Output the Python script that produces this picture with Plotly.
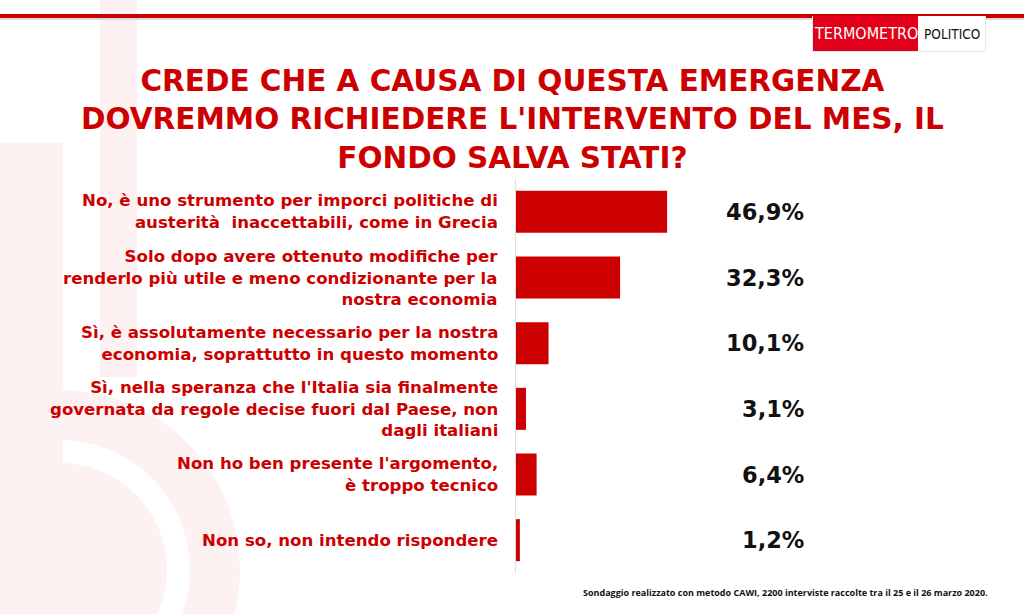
import plotly.graph_objects as go

# ---- data ----
categories = [
    "No, è uno strumento per imporci politiche di<br>austerità  inaccettabili, come in Grecia",
    "Solo dopo avere ottenuto modifiche per<br>renderlo più utile e meno condizionante per la<br>nostra economia",
    "Sì, è assolutamente necessario per la nostra<br>economia, soprattutto in questo momento",
    "Sì, nella speranza che l'Italia sia finalmente<br>governata da regole decise fuori dal Paese, non<br>dagli italiani",
    "Non ho ben presente l'argomento,<br>è troppo tecnico",
    "Non so, non intendo rispondere",
]
values = [46.9, 32.3, 10.1, 3.1, 6.4, 1.2]
title_lines = [
    "CREDE CHE A CAUSA DI QUESTA EMERGENZA",
    "DOVREMMO RICHIEDERE L'INTERVENTO DEL MES, IL",
    "FONDO SALVA STATI?",
]
footnote = "Sondaggio realizzato con metodo CAWI, 2200 interviste raccolte tra il 25 e il 26 marzo 2020."
value_labels = [f"{v:.1f}".replace(".", ",") + "%" for v in values]

RED = "#cc0000"
PINK = "#fdf1f1"
FONT = "DejaVu Sans"
W, H = 1024, 614
L, R, T, B = 516, 806, 179, 573
XMAX = 90


def px_x(p):
    return (p - L) / (R - L)


def px_y(p):
    return (B - p) / (B - T)


fig = go.Figure()
fig.add_trace(go.Bar(
    y=list(range(len(categories))), x=values, orientation="h",
    marker=dict(color=RED, line=dict(width=0)), width=0.64,
    hoverinfo="skip", showlegend=False,
))

shapes = []


def rect(x0, y0, x1, y1, color, line=None, layer="below"):
    shapes.append(dict(type="rect", xref="paper", yref="paper",
                       x0=px_x(x0), x1=px_x(x1), y0=px_y(y1), y1=px_y(y0),
                       fillcolor=color, line=line or dict(width=0), layer=layer))


def circle(cx, cy, r, color):
    shapes.append(dict(type="circle", xref="paper", yref="paper",
                       x0=px_x(cx - r), x1=px_x(cx + r), y0=px_y(cy + r), y1=px_y(cy - r),
                       fillcolor=color, line=dict(width=0), layer="below"))


# faint watermark
circle(60, 570, 180, PINK)
circle(60, 570, 130, "white")
circle(60, 570, 107, PINK)
rect(0, 143, 63, 614, PINK)
rect(100, 0, 137, 377, PINK)

# top red line and logo
rect(0, 18, 1024, 20, "#dddddd", layer="above")
rect(0, 14, 1024, 18, RED, layer="above")
rect(812, 16, 986, 52, "#e8e8e8", layer="above")
rect(813, 16, 918, 51, "#e2001a", layer="above")
rect(918, 16, 985, 51, "white", layer="above")

annotations = []
annotations.append(dict(
    text="<b>" + "<br>".join(title_lines) + "</b>", xref="paper", yref="paper",
    x=px_x(512), y=px_y(119), xanchor="center", yanchor="middle", align="center",
    showarrow=False, font=dict(family=FONT, size=29.5, color=RED)))

for i, c in enumerate(categories):
    annotations.append(dict(
        text=f"<b>{c}</b>", xref="paper", yref="y", x=0, xshift=-16, y=i,
        xanchor="right", yanchor="middle", align="right", showarrow=False,
        font=dict(family=FONT, size=16.6, color=RED)))
    annotations.append(dict(
        text=f"<b>{value_labels[i]}</b>", xref="x", yref="y", x=XMAX, y=i,
        xanchor="right", yanchor="middle", showarrow=False,
        font=dict(family=FONT, size=22.5, color="#111111")))

annotations.append(dict(
    text=f"<b>{footnote}</b>", xref="paper", yref="paper", x=px_x(990), y=px_y(592),
    xanchor="right", yanchor="middle", showarrow=False,
    font=dict(family="Open Sans", size=9, color="#111111")))

annotations.append(dict(
    text="TERMOMETRO", xref="paper", yref="paper", x=px_x(865.5), y=px_y(34),
    xanchor="center", yanchor="middle", showarrow=False,
    font=dict(family="DejaVu Sans Condensed, Open Sans", size=16, color="white")))
annotations.append(dict(
    text="POLITICO", xref="paper", yref="paper", x=px_x(951.5), y=px_y(34),
    xanchor="center", yanchor="middle", showarrow=False,
    font=dict(family="DejaVu Sans Condensed, Open Sans", size=13.5, color="#111111")))

fig.update_layout(
    width=W, height=H,
    margin=dict(l=L, r=W - R, t=T, b=H - B, pad=0),
    paper_bgcolor="white", plot_bgcolor="rgba(0,0,0,0)",
    xaxis=dict(range=[0, XMAX], visible=False, fixedrange=True),
    yaxis=dict(range=[len(categories) - 0.5, -0.5], showticklabels=False, showgrid=False,
               zeroline=False, showline=True, linecolor="#dcdcdc", linewidth=1, ticks="",
               fixedrange=True),
    shapes=shapes, annotations=annotations, bargap=0.36,
)

fig.write_html("out.html", config={"displayModeBar": False})
